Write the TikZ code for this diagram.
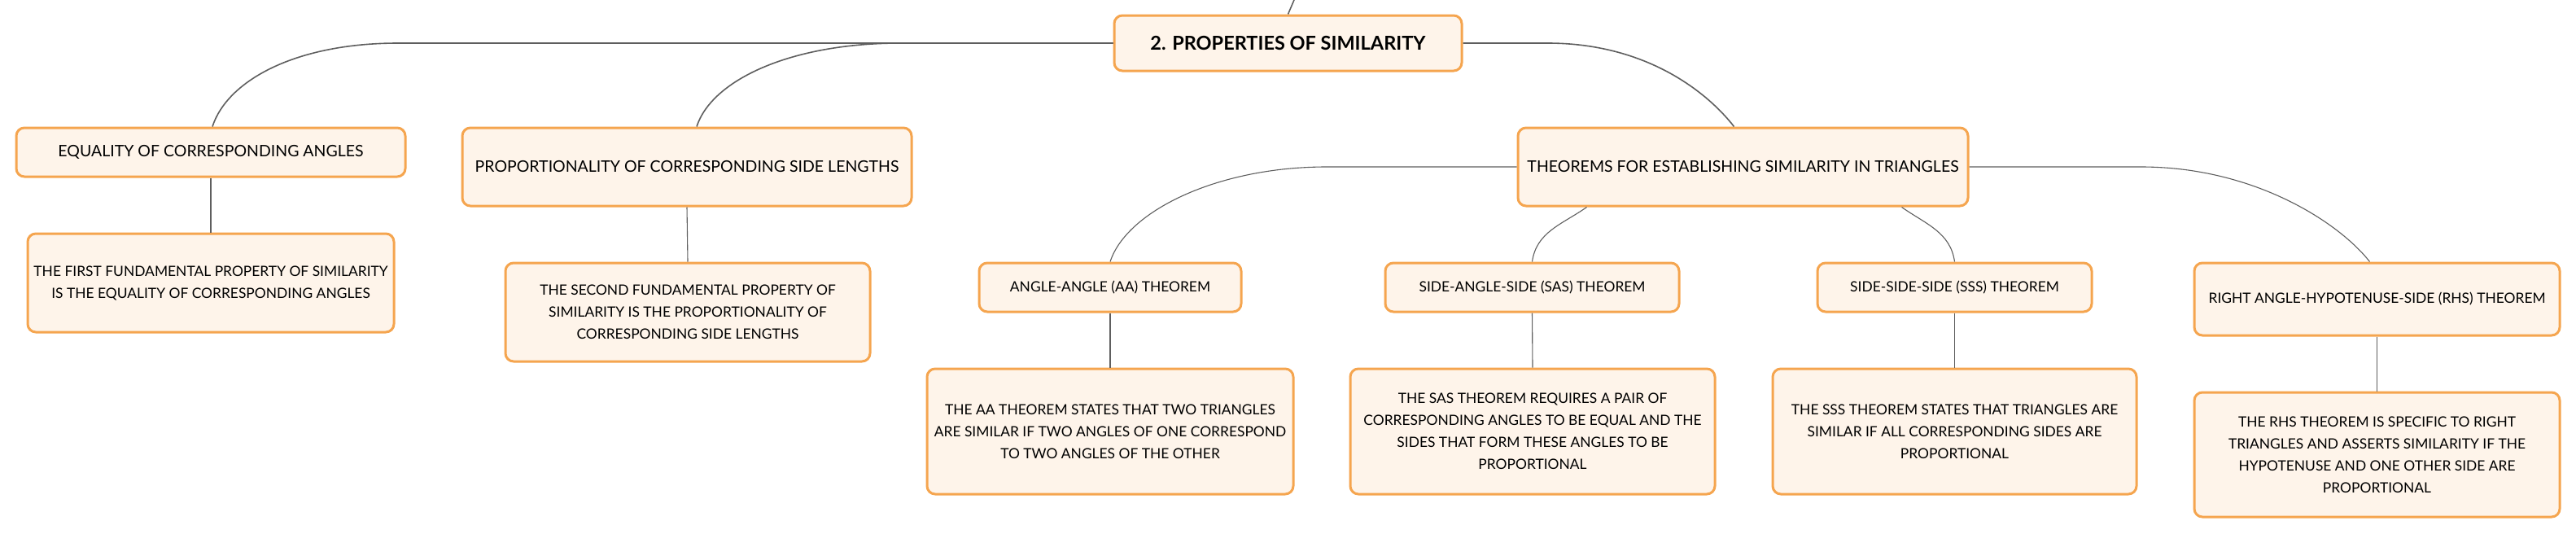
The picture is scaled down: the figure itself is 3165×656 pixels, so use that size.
\documentclass[tikz,border=0pt]{standalone}
\usepackage{fontspec}
\setmainfont{Lato}
\usetikzlibrary{calc}
\definecolor{cardline}{HTML}{F5A54F}
\definecolor{cardfill}{HTML}{FEF4EA}
\definecolor{linkgray}{HTML}{5E5E5E}
\tikzset{
	card/.style={draw=cardline, fill=cardfill, line width=3pt, rounded corners=10pt,
		align=center, inner sep=0pt, font=\fontsize{19.5}{27}\selectfont},
	smallcard/.style={card, font=\fontsize{17.4}{27}\selectfont},
	rootcard/.style={card, font=\fontsize{23.5}{28}\selectfont\bfseries},
	link/.style={draw=linkgray, line width=1.1pt},
	mainlink/.style={draw=linkgray, line width=1.6pt}
}

\begin{document}
\begin{tikzpicture}[x=1pt, y=-1pt]
		%%%%% START %%%%%
		\useasboundingbox (0, 0) rectangle (3165, 656);
		
		\node[rootcard, minimum width=427pt, minimum height=68pt] (root) at (1582.5, 53) {2. PROPERTIES OF SIMILARITY};
		\coordinate (up) at (1590, 0);
		
		\node[card, minimum width=478pt, minimum height=60pt] (equal) at (259, 187) {EQUALITY OF CORRESPONDING ANGLES};
		\node[smallcard, minimum width=450pt, minimum height=121pt] (equaltxt) at (259, 347.5) {THE FIRST FUNDAMENTAL PROPERTY OF SIMILARITY\\IS THE EQUALITY OF CORRESPONDING ANGLES};
		
		\node[card, minimum width=552pt, minimum height=96pt] (prop) at (844, 205) {PROPORTIONALITY OF CORRESPONDING SIDE LENGTHS};
		\node[smallcard, minimum width=448pt, minimum height=121pt] (proptxt) at (845, 383.5) {THE SECOND FUNDAMENTAL PROPERTY OF\\SIMILARITY IS THE PROPORTIONALITY OF\\CORRESPONDING SIDE LENGTHS};
		
		\node[card, minimum width=553pt, minimum height=96pt] (thm) at (2141.5, 205) {THEOREMS FOR ESTABLISHING SIMILARITY IN TRIANGLES};
		
		\node[smallcard, minimum width=322pt, minimum height=60pt] (aa) at (1364, 353) {ANGLE-ANGLE (AA) THEOREM};
		\node[smallcard, minimum width=450pt, minimum height=154pt] (aatxt) at (1364, 530) {THE AA THEOREM STATES THAT TWO TRIANGLES\\ARE SIMILAR IF TWO ANGLES OF ONE CORRESPOND\\TO TWO ANGLES OF THE OTHER};
		
		\node[smallcard, minimum width=361pt, minimum height=60pt] (sas) at (1882.5, 353) {SIDE-ANGLE-SIDE (SAS) THEOREM};
		\node[smallcard, minimum width=448pt, minimum height=154pt] (sastxt) at (1883, 530) {THE SAS THEOREM REQUIRES A PAIR OF\\CORRESPONDING ANGLES TO BE EQUAL AND THE\\SIDES THAT FORM THESE ANGLES TO BE\\PROPORTIONAL};
		
		\node[smallcard, minimum width=337pt, minimum height=60pt] (sss) at (2401.5, 353) {SIDE-SIDE-SIDE (SSS) THEOREM};
		\node[smallcard, minimum width=447pt, minimum height=154pt] (ssstxt) at (2401.5, 530) {THE SSS THEOREM STATES THAT TRIANGLES ARE\\SIMILAR IF ALL CORRESPONDING SIDES ARE\\PROPORTIONAL};
		
		\node[smallcard, minimum width=449pt, minimum height=89pt] (rhs) at (2920.5, 367.5) {RIGHT ANGLE-HYPOTENUSE-SIDE (RHS) THEOREM};
		\node[smallcard, minimum width=449pt, minimum height=153pt] (rhstxt) at (2920.5, 558.5) {THE RHS THEOREM IS SPECIFIC TO RIGHT\\TRIANGLES AND ASSERTS SIMILARITY IF THE\\HYPOTENUSE AND ONE OTHER SIDE ARE\\PROPORTIONAL};
		
		% links from the root
		\draw[mainlink] (root.north) -- (up);
		\draw[mainlink] (root.west) -- ([xshift=230pt]equal.north |- root.west)
			to[out=180, in=72, out distance=125pt, in distance=60pt] ([xshift=2pt]equal.north);
		\draw[mainlink] (root.west) -- ([xshift=262pt]prop.north |- root.west)
			to[out=180, in=72, out distance=135pt, in distance=60pt] ([xshift=12pt]prop.north);
		\draw[mainlink] (root.east) -- ([xshift=-240pt]thm.north |- root.east)
			to[out=0, in=128, out distance=120pt, in distance=55pt] ([xshift=-11pt]thm.north);
		
		% links from the theorems
		\draw[link] (thm.west) -- ([xshift=266pt]aa.north |- thm.west)
			to[out=180, in=72, out distance=135pt, in distance=65pt] (aa.north);
		\draw[link] ([xshift=-192pt]thm.south) to[out=215, in=82] (sas.north);
		\draw[link] ([xshift=195pt]thm.south) to[out=-35, in=98] (sss.north);
		\draw[link] (thm.east) -- ([xshift=-290pt]rhs.north |- thm.east)
			to[out=0, in=128, out distance=140pt, in distance=60pt] ([xshift=-9pt]rhs.north);
		
		% down to the texts
		\draw[link] (equal.south) -- (equaltxt.north);
		\draw[link] (prop.south) -- (proptxt.north);
		\draw[link] (aa.south) -- (aatxt.north);
		\draw[link] (sas.south) -- (sastxt.north);
		\draw[link] (sss.south) -- (ssstxt.north);
		\draw[link] (rhs.south) -- (rhstxt.north);
		
		%%%%% END %%%%%
\end{tikzpicture}
\end{document}
